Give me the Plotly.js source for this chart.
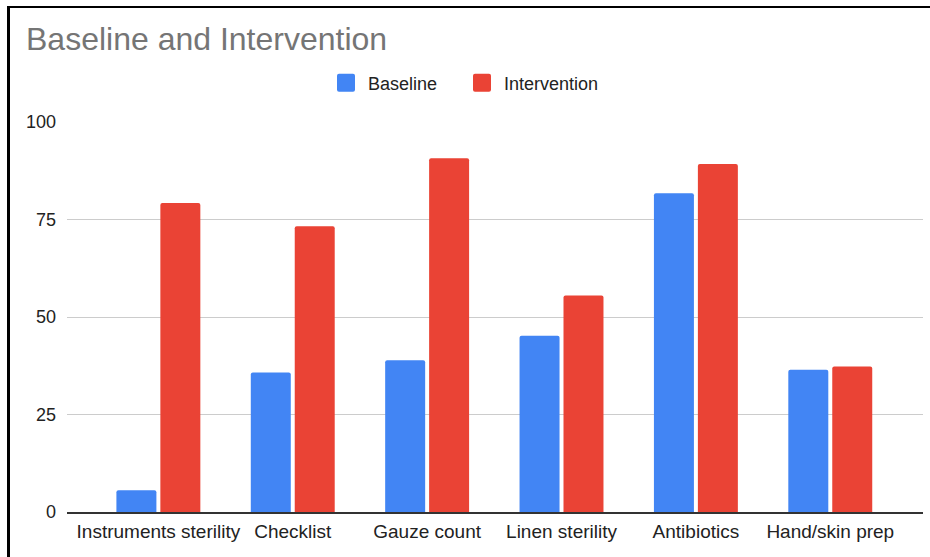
<!DOCTYPE html>
<html>
<head>
<meta charset="utf-8">
<script src="https://cdn.plot.ly/plotly-3.0.1.min.js"></script>
<style>
  html, body { margin: 0; padding: 0; background: #fff; }
  #wrap { position: relative; width: 930px; height: 557px; overflow: hidden; }
  #chart { width: 930px; height: 557px; }
  #frame { position: absolute; left: 7px; top: 6px; width: 930px; height: 560px;
           border-top: 2px solid #000; border-left: 3px solid #000; pointer-events: none; }
</style>
</head>
<body>
<div id="wrap">
  <div id="chart"></div>
  <div id="frame"></div>
</div>
<script>
const categories = ["Instruments sterility", "Checklist", "Gauze count", "Linen sterility", "Antibiotics", "Hand/skin prep"];
const baselineValues = [5.6, 35.8, 38.9, 45.2, 81.7, 36.5];
const interventionValues = [79.2, 73.3, 90.7, 55.5, 89.2, 37.3];
const yTicks = [0, 25, 50, 75, 100];

const FONT = "Liberation Sans, Arial, Helvetica, sans-serif";

const traces = [
  { type: "bar", name: "Baseline", x: categories, y: baselineValues, legend: "legend",
    marker: { color: "#4285F4", cornerradius: 2, line: { width: 0 } }, hoverinfo: "skip" },
  { type: "bar", name: "Intervention", x: categories, y: interventionValues, legend: "legend2",
    marker: { color: "#EA4335", cornerradius: 2, line: { width: 0 } }, hoverinfo: "skip" }
];

function legendAt(px) {
  return {
    orientation: "h",
    xref: "container", yref: "container",
    x: px / 930, xanchor: "left",
    y: 1 - 83 / 557, yanchor: "middle",
    itemwidth: 34,
    bgcolor: "rgba(0,0,0,0)",
    font: { family: FONT, size: 18, color: "#222222" },
    itemclick: false, itemdoubleclick: false
  };
}

const layout = {
  width: 930, height: 557,
  paper_bgcolor: "#ffffff", plot_bgcolor: "#ffffff",
  margin: { l: 67, r: 7, t: 122, b: 45, pad: 0 },
  font: { family: FONT, size: 18, color: "#222222" },
  title: {
    text: "Baseline and Intervention",
    font: { family: FONT, size: 32, color: "#757575" },
    xref: "container", yref: "container",
    x: 26 / 930, xanchor: "left",
    y: 1 - 39 / 557, yanchor: "middle"
  },
  showlegend: true,
  legend: legendAt(324),
  legend2: legendAt(460),
  barmode: "group",
  bargap: 0.346,
  bargroupgap: 0.09,
  xaxis: {
    type: "category",
    range: [-0.68, 5.69],
    showgrid: false, zeroline: false,
    showline: true, linecolor: "#333333", linewidth: 1.5,
    ticks: "", ticklabelstandoff: 2,
    tickfont: { family: FONT, size: 19, color: "#222222" },
    fixedrange: true
  },
  yaxis: {
    range: [0, 100],
    tickvals: yTicks, ticktext: yTicks.map(String),
    showgrid: true, gridcolor: "#cccccc", gridwidth: 1,
    zeroline: false, showline: false,
    ticks: "", ticklabelstandoff: 10,
    tickfont: { family: FONT, size: 18, color: "#222222" },
    fixedrange: true
  }
};

Plotly.newPlot("chart", traces, layout, { displayModeBar: false, staticPlot: true }).then(function (gd) {
  // enlarge legend swatches to match the reference (18px rounded squares)
  document.querySelectorAll("#chart .legendpoints path").forEach(function (p) {
    p.setAttribute("d", "M7,-9A2,2 0 0 1 9,-7V7A2,2 0 0 1 7,9H-7A2,2 0 0 1 -9,7V-7A2,2 0 0 1 -7,-9Z");
    p.removeAttribute("clip-path");
  });
  document.querySelectorAll("#chart .legendpoints").forEach(function (g) {
    g.removeAttribute("clip-path");
  });
});
</script>
</body>
</html>
